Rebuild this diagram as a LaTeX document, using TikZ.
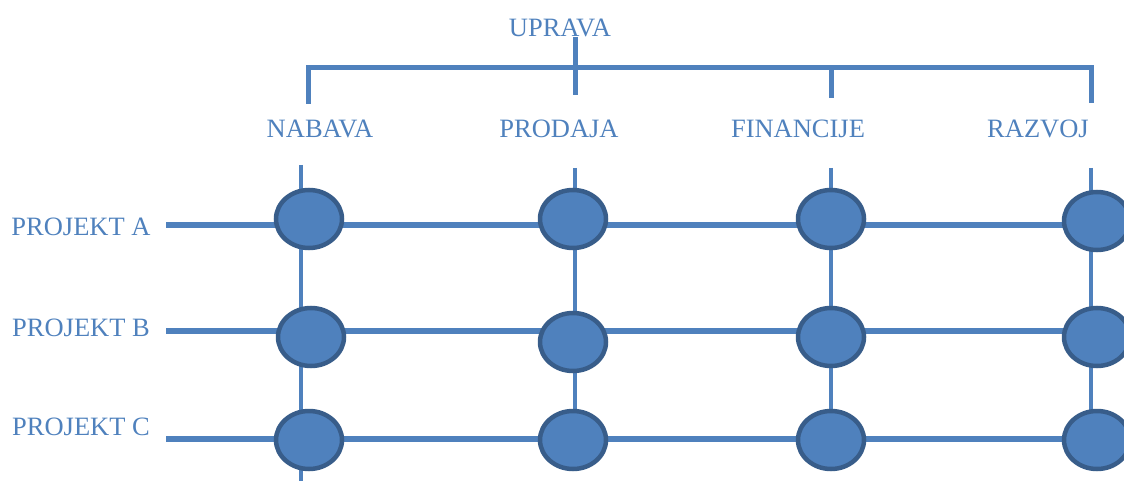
\documentclass[tikz,border=0pt]{standalone}
\usepackage{fontspec}
\setmainfont{Liberation Serif}
\usetikzlibrary{shapes.geometric}
\definecolor{lblue}{HTML}{4F81BD}
\definecolor{dblue}{HTML}{385D8A}
\begin{document}
\begin{tikzpicture}[x=1pt,y=-1pt,
  lbl/.style={text=lblue,font=\fontsize{26.5}{26.5}\selectfont,inner sep=0pt,anchor=center},
  bus/.style={draw=lblue,line width=5pt},
  rowline/.style={draw=lblue,line width=5.5pt},
  colline/.style={draw=lblue,line width=4.5pt},
  dot/.style={ellipse,draw=dblue,fill=lblue,line width=4.5pt,minimum width=66pt,minimum height=58pt,inner sep=0pt}]
\useasboundingbox (0,0) rectangle (1124,481);
% labels
\node[lbl] (upr) at (560,28) {UPRAVA};
\node[lbl] (nab) at (320,129) {NABAVA};
\node[lbl] (pro) at (559,129) {PRODAJA};
\node[lbl] (fin) at (798,129) {FINANCIJE};
\node[lbl] (raz) at (1038,129) {RAZVOJ};
\node[lbl] (pa) at (81,227) {PROJEKT A};
\node[lbl] (pb) at (81,328) {PROJEKT B};
\node[lbl] (pc) at (81,427) {PROJEKT C};
% top bus
\coordinate (b1) at (308,104);
\coordinate (b1t) at (308,68);
\coordinate (b2t) at (575,37);
\coordinate (b2) at (575,95);
\coordinate (b3t) at (831,68);
\coordinate (b3) at (831,98);
\coordinate (b4t) at (1091,68);
\coordinate (b4) at (1091,103);
\draw[bus] (b1) -- (b1t) -- (b4t) -- (b4);
\draw[bus] (b2t) -- (b2);
\draw[bus] (b3t) -- (b3);
% grid lines
\coordinate (ra) at (166,225); \coordinate (rae) at (1100,225);
\coordinate (rb) at (166,331); \coordinate (rbe) at (1100,331);
\coordinate (rc) at (166,439); \coordinate (rce) at (1100,439);
\draw[rowline] (ra) -- (rae);
\draw[rowline] (rb) -- (rbe);
\draw[rowline] (rc) -- (rce);
\coordinate (c1t) at (301,165); \coordinate (c1b) at (301,481);
\coordinate (c2t) at (575,168); \coordinate (c2b) at (575,440);
\coordinate (c3t) at (831,168); \coordinate (c3b) at (831,440);
\coordinate (c4t) at (1091,168); \coordinate (c4b) at (1091,440);
\draw[colline] (c1t) -- (c1b);
\draw[colline] (c2t) -- (c2b);
\draw[colline] (c3t) -- (c3b);
\draw[colline] (c4t) -- (c4b);
% circles
\node[dot] (a1) at (309,219) {};
\node[dot] (a2) at (573,219) {};
\node[dot] (a3) at (831,219) {};
\node[dot] (a4) at (1097,221) {};
\node[dot] (bb1) at (311,337) {};
\node[dot] (bb2) at (573,342) {};
\node[dot] (bb3) at (831,337) {};
\node[dot] (bb4) at (1097,337) {};
\node[dot] (cc1) at (309,440) {};
\node[dot] (cc2) at (573,440) {};
\node[dot] (cc3) at (831,440) {};
\node[dot] (cc4) at (1097,440) {};
\end{tikzpicture}
\end{document}
